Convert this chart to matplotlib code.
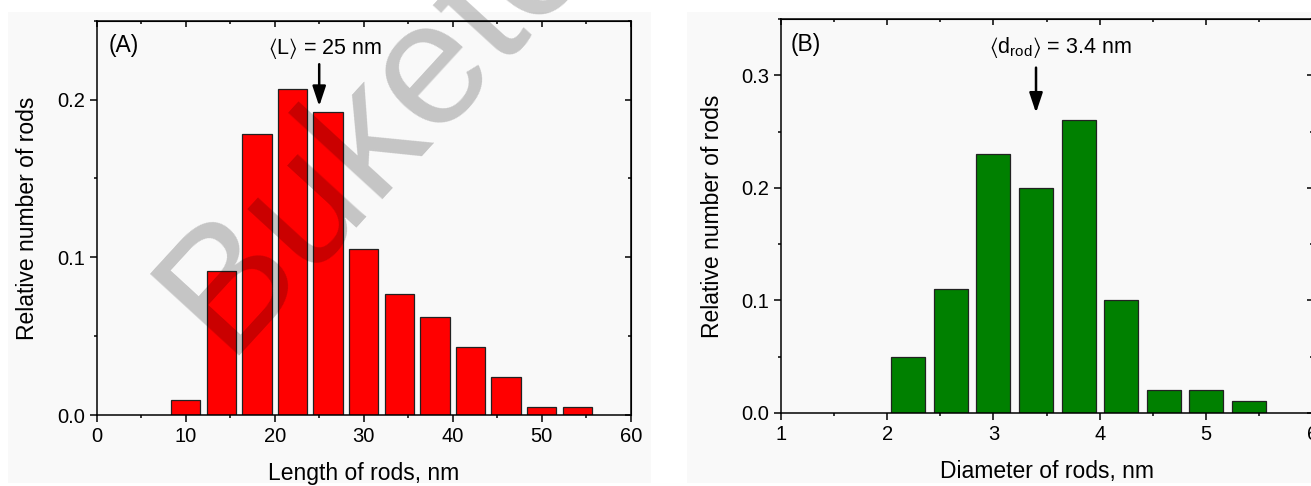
import matplotlib
matplotlib.use("Agg")
import matplotlib.pyplot as plt
from matplotlib.ticker import MultipleLocator, FormatStrFormatter
from matplotlib.patches import Rectangle

plt.rcParams["font.family"] = ["Liberation Sans", "DejaVu Sans"]
plt.rcParams["mathtext.fontset"] = "custom"
plt.rcParams["mathtext.rm"] = "Liberation Sans"
plt.rcParams["mathtext.it"] = "Liberation Sans:italic"
plt.rcParams["mathtext.fallback"] = "stixsans"

# Rod length histogram (bin centres in nm, relative counts)
length_centers = [10, 14, 18, 22, 26, 30, 34, 38, 42, 46, 50, 54]
length_fraction = [0.0095, 0.091, 0.178, 0.207, 0.192, 0.105,
                   0.077, 0.062, 0.043, 0.024, 0.005, 0.005]
mean_length = 25

# Rod diameter histogram (bin centres in nm, relative counts)
diameter_centers = [2.2, 2.6, 3.0, 3.4, 3.8, 4.2, 4.6, 5.0, 5.4]
diameter_fraction = [0.05, 0.11, 0.23, 0.20, 0.26, 0.10, 0.02, 0.02, 0.01]
mean_diameter = 3.4

W, H = 1311, 486
fig = plt.figure(figsize=(W / 100, H / 100), dpi=100)
fig.patch.set_facecolor("white")

# light panel backgrounds
for x0, x1 in [(8, 651), (687, 1311)]:
    fig.patches.append(Rectangle((x0 / W, 3 / H), (x1 - x0) / W, (486 - 12 - 3) / H,
                                 transform=fig.transFigure, facecolor="#f9f9f9",
                                 edgecolor="none", zorder=-10))


def px_axes(left, right, top, bottom):
    return fig.add_axes([left / W, (H - bottom) / H, (right - left) / W, (bottom - top) / H])


def style_axes(ax, xmaj, xmin, ymaj, ymin):
    ax.set_facecolor("none")
    for s in ax.spines.values():
        s.set_linewidth(1.1)
        s.set_color("black")
    ax.xaxis.set_major_locator(MultipleLocator(xmaj))
    ax.xaxis.set_minor_locator(MultipleLocator(xmin))
    ax.yaxis.set_major_locator(MultipleLocator(ymaj))
    ax.yaxis.set_minor_locator(MultipleLocator(ymin))
    ax.yaxis.set_major_formatter(FormatStrFormatter("%.1f"))
    ax.tick_params(which="major", direction="out", length=5, width=1.1,
                   labelsize=14.5, pad=3.5, top=False, right=False)
    ax.tick_params(which="minor", direction="out", length=2.5, width=1.1,
                   top=False, right=False)
    # mirrored inward ticks on top and right
    top = ax.secondary_xaxis("top")
    top.xaxis.set_major_locator(MultipleLocator(xmaj))
    top.xaxis.set_minor_locator(MultipleLocator(xmin))
    top.tick_params(which="major", direction="in", length=4, width=1.1, labeltop=False)
    top.tick_params(which="minor", direction="in", length=2.5, width=1.1)
    right = ax.secondary_yaxis("right")
    right.yaxis.set_major_locator(MultipleLocator(ymaj))
    right.yaxis.set_minor_locator(MultipleLocator(ymin))
    right.tick_params(which="major", direction="in", length=4, width=1.1, labelright=False)
    right.tick_params(which="minor", direction="in", length=2.5, width=1.1)


def mean_arrow(ax, x, y_tail, y_tip):
    ax.annotate("", xy=(x, y_tip), xytext=(x, y_tail),
                arrowprops=dict(arrowstyle="-|>,head_length=0.6,head_width=0.2",
                                mutation_scale=20, color="black", lw=1.8,
                                shrinkA=0, shrinkB=0))


# ---- (A) length distribution
axA = px_axes(96.7, 630.7, 20.7, 415)
axA.bar(length_centers, length_fraction, width=3.3, color="#ff0000",
        edgecolor="#222222", linewidth=0.9, zorder=2)
axA.set_xlim(0, 60)
axA.set_ylim(0, 0.25)
style_axes(axA, 10, 5, 0.1, 0.05)
axA.set_xlabel("Length of rods, nm", fontsize=16.5)
axA.set_ylabel("Relative number of rods", fontsize=16.5)
axA.xaxis.set_label_coords(0.5, -0.166)
axA.xaxis.label.set_va("baseline")
axA.yaxis.set_label_coords(-0.1305, 0.5)
axA.yaxis.label.set_va("center")
axA.text(0.0217, 0.936, "(A)", transform=axA.transAxes, fontsize=16.5,
         ha="left", va="center")
axA.text(25.6, 0.2325, r"$\langle$L$\rangle$ = 25 nm", fontsize=15.5,
         ha="center", va="center")
mean_arrow(axA, mean_length, 0.2224, 0.1958)

# ---- (B) diameter distribution
axB = px_axes(780.7, 1312.6, 19.3, 412.7)
axB.bar(diameter_centers, diameter_fraction, width=0.32, color="#008000",
        edgecolor="#222222", linewidth=0.9, zorder=2)
axB.set_xlim(1, 6)
axB.set_ylim(0, 0.35)
style_axes(axB, 1, 0.5, 0.1, 0.05)
axB.set_xlabel("Diameter of rods, nm", fontsize=16.5)
axB.set_ylabel("Relative number of rods", fontsize=16.5)
axB.xaxis.set_label_coords(0.5, -0.166)
axB.xaxis.label.set_va("baseline")
axB.yaxis.set_label_coords(-0.129, 0.5)
axB.yaxis.label.set_va("center")
axB.text(0.0194, 0.937, "(B)", transform=axB.transAxes, fontsize=16.5,
         ha="left", va="center")
axB.text(3.625, 0.325, r"$\langle$d$_{\mathrm{rod}}\rangle$ = 3.4 nm", fontsize=15.5,
         ha="center", va="center")
mean_arrow(axB, mean_diameter, 0.307, 0.2668)

# watermark
fig.text(225 / W, (H - 356) / H, "Buketov", fontsize=127,
         rotation=47.5, rotation_mode="anchor", ha="left", va="baseline",
         color="black", alpha=0.21, zorder=100)

fig.savefig("out.png", dpi=100)
